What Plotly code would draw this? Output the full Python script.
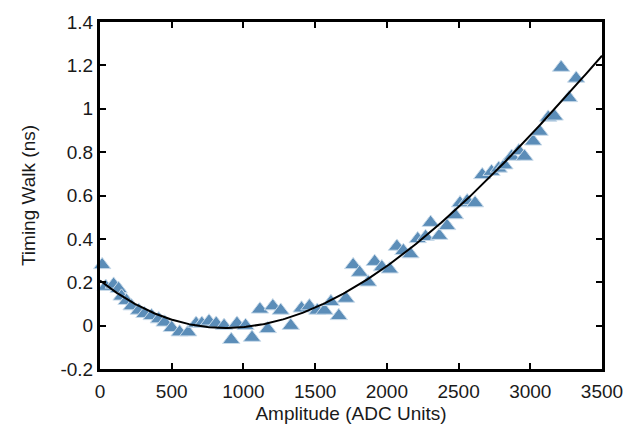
import numpy as np
import plotly.graph_objects as go

amplitude = [15, 40, 95, 130, 150, 185, 220, 270, 310, 360, 410, 450, 500, 555, 615,
             670, 710, 760, 810, 865, 915, 955, 1015, 1060, 1115, 1170, 1205, 1260, 1330,
             1405, 1460, 1515, 1565, 1610, 1665, 1715, 1765, 1810, 1870, 1915, 1965, 2020,
             2070, 2115, 2165, 2215, 2270, 2305, 2365, 2420, 2475, 2510, 2560, 2615, 2665,
             2730, 2780, 2820, 2870, 2920, 2960, 3020, 3065, 3125, 3170, 3215, 3270, 3320]
walk = [0.28, 0.18, 0.19, 0.17, 0.135, 0.115, 0.09, 0.07, 0.055, 0.045, 0.03, 0.015, -0.01, -0.03, -0.03,
        0.01, 0.01, 0.02, 0.01, 0.0, -0.065, 0.01, 0.0, -0.055, 0.075, -0.015, 0.09, 0.07, 0.0,
        0.08, 0.09, 0.07, 0.07, 0.11, 0.045, 0.125, 0.28, 0.245, 0.2, 0.295, 0.27, 0.26,
        0.365, 0.345, 0.33, 0.40, 0.41, 0.475, 0.415, 0.46, 0.51, 0.565, 0.575, 0.565, 0.695,
        0.71, 0.725, 0.74, 0.78, 0.805, 0.78, 0.85, 0.895, 0.96, 0.965, 1.19, 1.05, 1.14]

x_ticks = [0, 500, 1000, 1500, 2000, 2500, 3000, 3500]
y_ticks = [-0.2, 0, 0.2, 0.4, 0.6, 0.8, 1.0, 1.2, 1.4]
y_tick_text = ["-0.2", "0", "0.2", "0.4", "0.6", "0.8", "1", "1.2", "1.4"]

coef = np.polyfit(amplitude, walk, 3)
fit_x = np.linspace(0, 3500, 300)
fit_y = np.polyval(coef, fit_x)

FONT = "Liberation Sans, Arial"

fig = go.Figure()
fig.add_trace(go.Scatter(x=amplitude, y=walk, mode="markers",
                         marker=dict(symbol="triangle-up", size=15, color="#5b8db8",
                                     line=dict(color="#c9dbea", width=1)),
                         showlegend=False, cliponaxis=False))
fig.add_trace(go.Scatter(x=fit_x, y=fit_y, mode="lines",
                         line=dict(color="black", width=2), showlegend=False))

axis_common = dict(showline=True, linecolor="black", linewidth=3, mirror="ticks",
                   ticks="inside", ticklen=6, tickwidth=2, tickcolor="black",
                   showgrid=False, zeroline=False,
                   tickfont=dict(family=FONT, size=19, color="#1a1a1a"))

fig.update_xaxes(range=[0, 3500], tickvals=x_ticks, ticklabelstandoff=3,
                 title=dict(text="Amplitude (ADC Units)", font=dict(family=FONT, size=19, color="#1a1a1a"), standoff=6),
                 **axis_common)
fig.update_yaxes(range=[-0.2, 1.4], tickvals=y_ticks, ticktext=y_tick_text,
                 title=dict(text="Timing Walk (ns)", font=dict(family=FONT, size=19, color="#1a1a1a"), standoff=20),
                 **axis_common)

fig.update_layout(width=635, height=439, margin=dict(l=100, r=29, t=16, b=70),
                  plot_bgcolor="white", paper_bgcolor="white")

fig.write_html("out.html")
